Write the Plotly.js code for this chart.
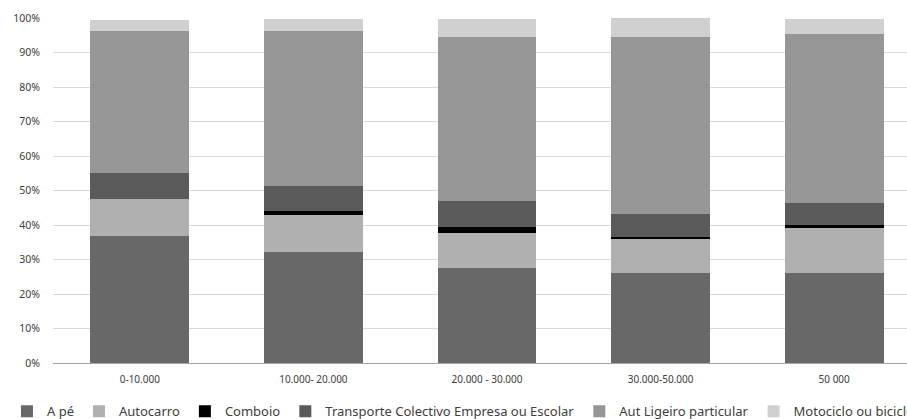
<!DOCTYPE html>
<html>
<head>
<meta charset="utf-8">
<script src="https://cdn.plot.ly/plotly-3.0.1.min.js"></script>
<style>
html,body{margin:0;padding:0;overflow:hidden;background:#fff;}
#chart{width:1200px;height:419px;}
</style>
</head>
<body>
<div id="chart"></div>
<script>
const categories = ["0-10.000", "10.000- 20.000", "20.000 - 30.000", "30.000-50.000", "50 000"];
const aPe        = [36.8, 32.3, 27.6, 26.1, 26.1];
const autocarro  = [10.6, 10.7, 10.1, 9.9, 12.9];
const comboio    = [0.0, 1.0, 1.8, 0.6, 1.0];
const transporte = [7.8, 7.3, 7.4, 6.5, 6.5];
const autLigeiro = [40.9, 44.8, 47.5, 51.4, 48.9];
const motociclo  = [3.4, 3.6, 5.3, 5.8, 4.3];
const yTicks = [0, 10, 20, 30, 40, 50, 60, 70, 80, 90, 100];
const yTickText = ["0%", "10%", "20%", "30%", "40%", "50%", "60%", "70%", "80%", "90%", "100%"];

const series = [
  {name: "A pé", y: aPe, color: "#686868"},
  {name: "Autocarro", y: autocarro, color: "#b0b0b0"},
  {name: "Comboio", y: comboio, color: "#000000"},
  {name: "Transporte Colectivo Empresa ou Escolar", y: transporte, color: "#5a5a5a"},
  {name: "Aut Ligeiro particular", y: autLigeiro, color: "#969696"},
  {name: "Motociclo ou bicicleta", y: motociclo, color: "#d0d0d0"}
];

const data = series.map(s => ({
  type: "bar",
  name: s.name,
  x: categories,
  y: s.y,
  marker: {color: s.color, line: {width: 0}},
  hoverinfo: "name+y"
}));

// plot area is wider than the 907px window (the reference is cropped on the right)
const plotW = 1137;
const catPx = 173.6;

const layout = {
  width: 1200,
  height: 419,
  barmode: "stack",
  bargap: 0.43,
  margin: {l: 53, r: 10, t: 18, b: 56, autoexpand: false},
  paper_bgcolor: "#fff",
  plot_bgcolor: "#fff",
  font: {family: "Noto Sans, sans-serif", color: "#404040"},
  xaxis: {
    type: "category",
    range: [-0.5, -0.5 + plotW / catPx],
    showgrid: false,
    showline: true,
    linecolor: "#a6a6a6",
    linewidth: 1,
    ticks: "",
    tickfont: {size: 10, family: "Noto Sans, sans-serif", color: "#404040"},
    ticklabelstandoff: 7
  },
  yaxis: {
    range: [0, 100],
    tickvals: yTicks,
    ticktext: yTickText,
    showgrid: true,
    gridcolor: "#d9d9d9",
    gridwidth: 1,
    showline: false,
    zeroline: false,
    ticks: "",
    tickfont: {size: 10.5, family: "Noto Sans, sans-serif", color: "#404040"},
    ticklabelstandoff: 12
  },
  showlegend: true,
  legend: {
    orientation: "h",
    xref: "paper",
    x: -0.0405,
    xanchor: "left",
    yref: "paper",
    y: -0.14,
    yanchor: "middle",
    font: {size: 13, family: "Noto Sans, sans-serif", color: "#404040"},
    traceorder: "normal",
    itemclick: false
  }
};

Plotly.newPlot("chart", data, layout, {displayModeBar: false, staticPlot: true});
</script>
</body>
</html>
